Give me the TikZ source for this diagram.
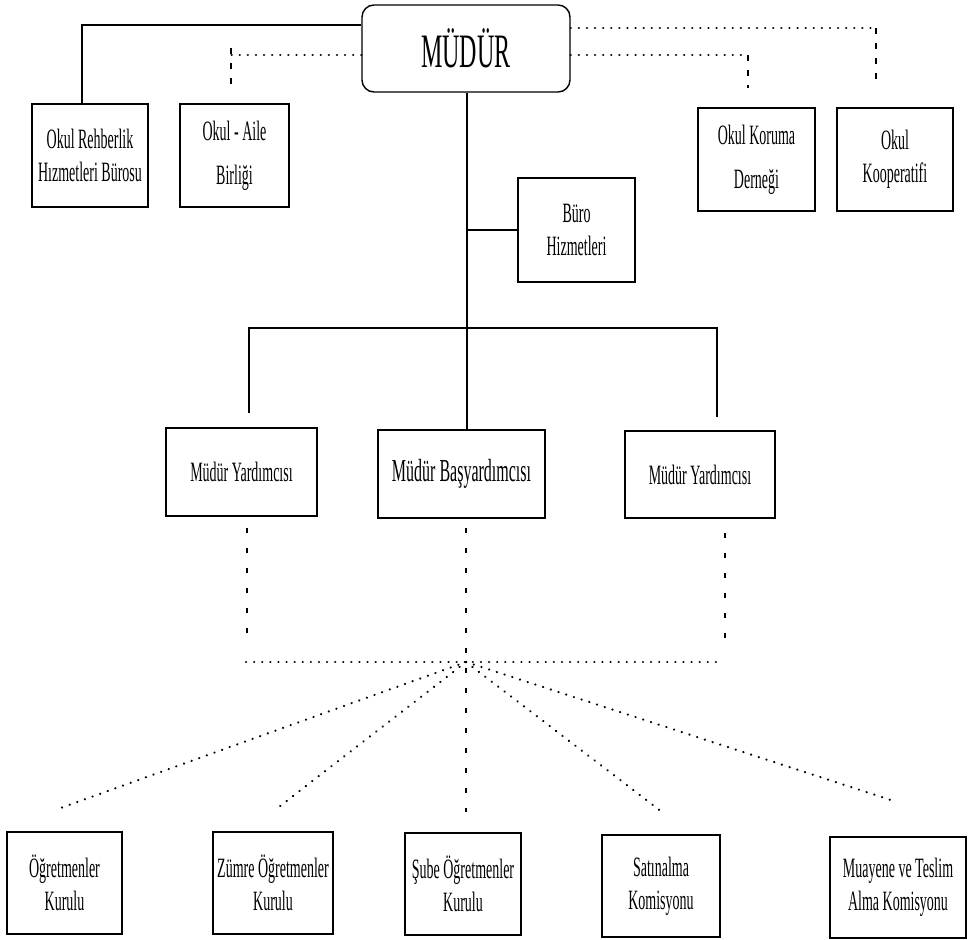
\documentclass[tikz,border=0pt]{standalone}
\usepackage{fontspec}
\setmainfont{Liberation Serif}[FakeStretch=0.5]
\newcommand{\orglabel}{\fontsize{28}{33}\selectfont}
\newcommand{\orgwide}{\fontsize{28}{44}\selectfont}
\newcommand{\orgbig}{\fontsize{32}{38}\selectfont}
\newcommand{\orghead}{\fontsize{48}{52}\selectfont}
\begin{document}
\begin{tikzpicture}[x=1pt,y=-1pt,
  box/.style={draw, line width=1.4pt, inner sep=0pt, align=center, font=\orglabel},
  solidline/.style={line width=1.3pt},
  dotline/.style={line width=2.4pt, line cap=round, dash pattern=on 0.1pt off 8pt},
  topdash/.style={line width=1.6pt, dash pattern=on 6pt off 9pt},
  lowdash/.style={line width=1.6pt, dash pattern=on 5pt off 15pt}]
\useasboundingbox (0,0) rectangle (968,939);

% top level
\node[box, rounded corners=12pt, minimum width=208pt, minimum height=87pt, font=\orghead] (mudur) at (466,48.5) {MÜDÜR};

% units attached to the director
\node[box, minimum width=116pt, minimum height=103pt] (rehber) at (90,155.5) {Okul Rehberlik\\Hızmetleri Bürosu};
\node[box, minimum width=109pt, minimum height=103pt, font=\orgwide] (aile) at (234.5,155.5) {Okul - Aile\\Birliği};
\node[box, minimum width=117pt, minimum height=103pt, font=\orgwide] (koruma) at (756.5,159.5) {Okul Koruma\\Derneği};
\node[box, minimum width=116pt, minimum height=103pt] (koop) at (895,159.5) {Okul\\Kooperatifi};
\node[box, minimum width=117pt, minimum height=104pt] (buro) at (576.5,230) {Büro\\Hizmetleri};

% assistant directors
\node[box, minimum width=151pt, minimum height=88pt] (yard1) at (241.5,472) {Müdür Yardımcısı};
\node[box, minimum width=167pt, minimum height=88pt, font=\orgbig] (basyard) at (461.5,474) {Müdür Başyardımcısı};
\node[box, minimum width=150pt, minimum height=87pt] (yard2) at (700,474.5) {Müdür Yardımcısı};

% boards and commissions
\node[box, minimum width=115pt, minimum height=102pt] (ogret) at (64.5,883) {Öğretmenler\\Kurulu};
\node[box, minimum width=120pt, minimum height=102pt] (zumre) at (273,883) {Zümre Öğretmenler\\Kurulu};
\node[box, minimum width=116pt, minimum height=102pt] (sube) at (463,884) {Şube Öğretmenler\\Kurulu};
\node[box, minimum width=118pt, minimum height=102pt] (satin) at (661,886) {Satınalma\\Komisyonu};
\node[box, minimum width=136pt, minimum height=101pt] (muayene) at (898,887.5) {Muayene ve Teslim\\Alma Komisyonu};

% solid line to the guidance office
\draw[solidline] (mudur.west |- 0,25) -| ([xshift=-8pt]rehber.north);

% dotted links to the associations
\coordinate (aileTurn) at (231,55);
\coordinate (aileEnd) at (231,87);
\draw[dotline] (mudur.west |- aileTurn) -- (aileTurn);
\draw[topdash] (231,48) -- (aileEnd);

\coordinate (korTurn) at (748,55);
\coordinate (korEnd) at (748,88);
\draw[dotline] (mudur.east |- korTurn) -- (korTurn);
\draw[topdash] (korTurn) -- (korEnd);

\coordinate (kopTurn) at (876,28);
\coordinate (kopEnd) at (876,86);
\draw[dotline] (mudur.east |- kopTurn) -- (kopTurn);
\draw[topdash] (kopTurn) -- (kopEnd);

% main vertical and office branch
\coordinate (trunk) at (467,0);
\draw[solidline] (mudur.south -| trunk) -- (basyard.north -| trunk);
\draw[solidline] (buro.west) -- (buro.west -| trunk);

% bar to the assistant directors
\coordinate (barL) at (249,328);
\coordinate (barR) at (717,328);
\coordinate (barLEnd) at (249,413);
\coordinate (barREnd) at (717,417);
\draw[solidline] (barLEnd) -- (barL) -- (barR) -- (barREnd);

% dashed drops to the collector line
\coordinate (hub) at (466,662);
\coordinate (dropL) at (247,528);
\coordinate (dropLEnd) at (247,640);
\coordinate (dropR) at (725,533);
\coordinate (dropREnd) at (725,645);
\coordinate (dropC) at (466,528);
\coordinate (dropCEnd) at (466,812);
\draw[lowdash] (dropL) -- (dropLEnd);
\draw[lowdash] (dropR) -- (dropREnd);
\draw[lowdash] (dropC) -- (dropCEnd);
\draw[dotline] (246,662) -- (720,662);

% rays to the boards
\coordinate (rayA) at (55,810);
\coordinate (rayB) at (275,810);
\coordinate (rayD) at (662,812);
\coordinate (rayE) at (897,802);
\draw[dotline] (hub) -- (rayA);
\draw[dotline] (hub) -- (rayB);
\draw[dotline] (hub) -- (rayD);
\draw[dotline] (hub) -- (rayE);
\end{tikzpicture}
\end{document}
